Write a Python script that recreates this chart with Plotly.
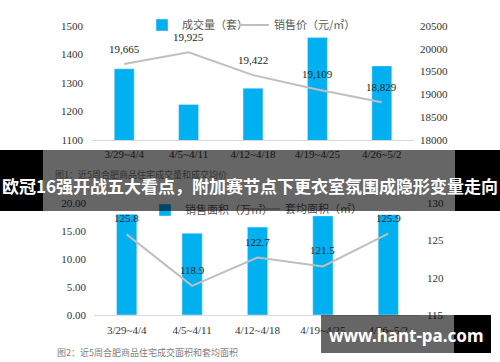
import plotly.graph_objects as go

weeks = ["3/29~4/4", "4/5~4/11", "4/12~4/18", "4/19~4/25", "4/26~5/2"]
deal_count = [1350, 1225, 1282, 1460, 1360]          # 成交量（套）
deal_price = [19665, 19925, 19422, 19109, 18829]     # 销售价（元/㎡）
sale_area = [18.0, 14.6, 15.7, 17.7, 17.9]           # 销售面积（万㎡）
avg_area = [125.8, 118.9, 122.7, 121.5, 125.9]       # 套均面积（㎡）

name_count = "成交量（套）"
name_price = "销售价（元/㎡）"
name_area = "销售面积（万㎡）"
name_avg = "套均面积（㎡）"
caption1 = "图1：近5周合肥商品住宅成交量和成交均价"
caption2 = "图2：近5周合肥商品住宅成交面积和套均面积"
banner_text = "欧冠16强开战五大看点，附加赛节点下更衣室氛围成隐形变量走向"
watermark = "www.hant-pa.com"

W, H = 500, 362
BLUE = "#00b0f0"
GRAY = "#bfbfbf"
SERIF = "Liberation Serif, Times New Roman, serif"
CJK = "Noto Sans CJK SC, sans-serif"

def py(v):
    return 1 - v / H

def px(v):
    return v / W

fig = go.Figure()
fig.add_trace(go.Bar(x=weeks, y=deal_count, name=name_count, marker_color=BLUE,
                     width=0.31, xaxis="x", yaxis="y", legend="legend"))
fig.add_trace(go.Scatter(x=weeks, y=deal_price, name=name_price, mode="lines",
                         line=dict(color=GRAY, width=2), xaxis="x", yaxis="y2",
                         legend="legend2"))
fig.add_trace(go.Bar(x=weeks, y=sale_area, name=name_area, marker_color=BLUE,
                     width=0.31, xaxis="x2", yaxis="y3", legend="legend3"))
fig.add_trace(go.Scatter(x=weeks, y=avg_area, name=name_avg, mode="lines",
                         line=dict(color=GRAY, width=2), xaxis="x2", yaxis="y4",
                         legend="legend4"))

tickfont = dict(family=SERIF, size=11, color="#333333")
axis_common = dict(showgrid=False, zeroline=False, tickfont=tickfont, ticks="")

annotations = []
for w, v in zip(weeks, deal_price):
    annotations.append(dict(x=w, y=v, xref="x", yref="y2", text=f"{v:,}",
                            showarrow=False, yshift=15, font=dict(family=SERIF, size=11, color="#222")))
for w, v in zip(weeks, avg_area):
    annotations.append(dict(x=w, y=v, xref="x2", yref="y4", text=f"{v}",
                            showarrow=False, yshift=16, font=dict(family=SERIF, size=11, color="#222")))

annotations.append(dict(x=px(53), y=py(175), xref="paper", yref="paper", xanchor="left",
                        yanchor="middle", showarrow=False, text=caption1,
                        font=dict(family=CJK, size=9, color="#808080")))
annotations.append(dict(x=px(55), y=py(352), xref="paper", yref="paper", xanchor="left",
                        yanchor="middle", showarrow=False, text=caption2,
                        font=dict(family=CJK, size=9, color="#808080")))

# banner overlay
for x0, x1 in [(0, 43), (455, 500)]:
    annotations.append(dict(x=px((x0 + x1) / 2), y=py(180.5), xref="paper", yref="paper",
                            xanchor="center", yanchor="middle", showarrow=False, text=" ",
                            width=x1 - x0, height=61, bgcolor="black", borderpad=0, borderwidth=0))
annotations.append(dict(x=0.5, y=py(180.5), xref="paper", yref="paper", xanchor="center",
                        yanchor="middle", showarrow=False, text=" ", width=W, height=61,
                        bgcolor="rgba(0,0,0,0.6)", borderpad=0, borderwidth=0))
annotations.append(dict(x=0.5, y=py(185), xref="paper", yref="paper", xanchor="center",
                        yanchor="middle", showarrow=False, text=f"<b>{banner_text}</b>",
                        font=dict(family=CJK, size=17, color="white")))

# watermark
annotations.append(dict(x=px((454 + 491) / 2), y=py(334), xref="paper", yref="paper",
                        xanchor="center", yanchor="middle", showarrow=False, text=" ",
                        width=37, height=38, bgcolor="black", borderpad=0, borderwidth=0))
annotations.append(dict(x=px((321 + 491) / 2), y=py(334), xref="paper", yref="paper",
                        xanchor="center", yanchor="middle", showarrow=False, text=" ",
                        width=170, height=38, bgcolor="rgba(0,0,0,0.6)", borderpad=0, borderwidth=0))
annotations.append(dict(x=px(406), y=py(335), xref="paper", yref="paper",
                        xanchor="center", yanchor="middle", showarrow=False,
                        text=f"<b>{watermark}</b>",
                        font=dict(family="Noto Sans, DejaVu Sans, sans-serif", size=17, color="white")))

legend_common = dict(orientation="h", bgcolor="rgba(0,0,0,0)", yanchor="middle", xanchor="left",
                     font=dict(family=CJK, size=11, color="#595959"), itemwidth=30)

fig.update_layout(
    width=W, height=H, margin=dict(l=0, r=0, t=0, b=0, autoexpand=False),
    paper_bgcolor="white", plot_bgcolor="white",
    showlegend=True,
    xaxis=dict(domain=[px(92), px(414)], anchor="y", showline=True, linecolor="#d9d9d9",
               linewidth=1, ticklabelstandoff=4, **axis_common),
    yaxis=dict(domain=[py(140), py(26)], range=[1100, 1500], dtick=100, anchor="x",
               showline=False, ticklabelstandoff=8, **axis_common),
    yaxis2=dict(overlaying="y", side="right", range=[18000, 20500], dtick=500, anchor="x",
                tickformat="d", showline=False, ticklabelstandoff=5, **axis_common),
    xaxis2=dict(domain=[px(94), px(421)], anchor="y3", showline=True, linecolor="#d9d9d9",
                linewidth=1, ticklabelstandoff=5, **axis_common),
    yaxis3=dict(domain=[py(315), py(203)], range=[0, 20], dtick=5, tickformat=".2f",
                anchor="x2", showline=False, ticklabelstandoff=7, **axis_common),
    yaxis4=dict(overlaying="y3", side="right", range=[115, 130], dtick=5, anchor="x2",
                tickformat="d", showline=False, ticklabelstandoff=5, **axis_common),
    legend=dict(x=px(142), y=py(25), **legend_common),
    legend2=dict(x=px(234), y=py(25), **legend_common),
    legend3=dict(x=px(145), y=py(210), **legend_common),
    legend4=dict(x=px(245), y=py(209), **legend_common),
    annotations=annotations,
)

fig.write_html("out.html", config={"displayModeBar": False},
               post_script="document.body.style.margin='0';document.body.style.overflow='hidden';")
